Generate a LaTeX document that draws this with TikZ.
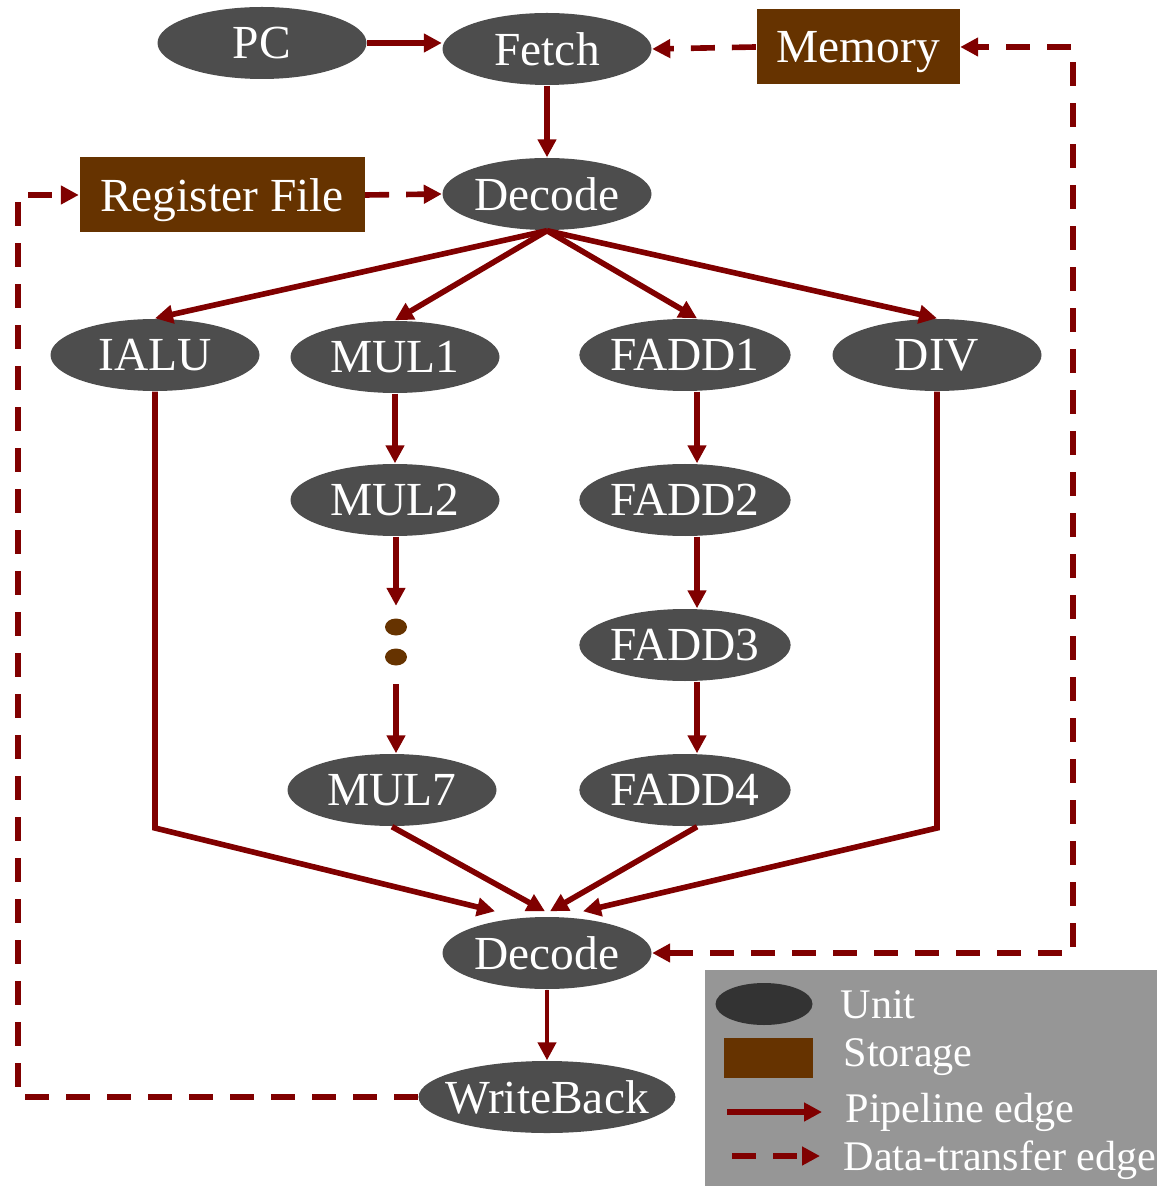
\documentclass[tikz,border=0pt]{standalone}
\usepackage{fontspec}
\setmainfont{Liberation Serif}
\usetikzlibrary{arrows.meta, shapes.geometric}
\definecolor{unitgray}{HTML}{4D4D4D}
\definecolor{keydark}{HTML}{333333}
\definecolor{storebrown}{HTML}{663300}
\definecolor{edgered}{HTML}{800000}
\definecolor{keygray}{HTML}{969696}

\begin{document}
\begin{tikzpicture}[x=0.1mm, y=-0.1mm, >={Triangle[length=1.8mm, width=1.8mm]},
    unit/.style={ellipse, fill=unitgray, text=white, inner sep=0pt,
        minimum width=20.9mm, minimum height=7.2mm, font=\fontsize{13.5}{16}\selectfont},
    storage/.style={rectangle, fill=storebrown, text=white, inner sep=0pt, text depth=0pt,
        minimum height=7.5mm, font=\fontsize{13.5}{16}\selectfont},
    pipe/.style={->, draw=edgered, line width=1.6pt},
    data/.style={->, draw=edgered, line width=1.6pt, dash pattern=on 2.4mm off 1.7mm},
    keytext/.style={anchor=west, text=white, inner sep=0pt, font=\fontsize{12}{14}\selectfont}]
    \useasboundingbox (0,0) rectangle (1157,1186);
    % units and storage
    \node[unit] (pc) at (262,43) {PC};
    \node[unit] (fetch) at (547,49) {Fetch};
    \node[storage, minimum width=20.3mm] (mem) at (858,47) {Memory};
    \node[storage, minimum width=28.5mm] (rf) at (222,195) {Register File};
    \node[unit] (dec1) at (547,194) {Decode};
    \node[unit] (ialu) at (155,355) {IALU};
    \node[unit] (mul1) at (395,357) {MUL1};
    \node[unit] (fadd1) at (685,355) {FADD1};
    \node[unit] (div) at (937,355) {DIV};
    \node[unit] (mul2) at (395,500) {MUL2};
    \node[unit] (fadd2) at (685,500) {FADD2};
    \node[ellipse, fill=storebrown, inner sep=0pt, minimum width=2.2mm, minimum height=1.7mm] (dotA) at (396,627) {};
    \node[ellipse, fill=storebrown, inner sep=0pt, minimum width=2.2mm, minimum height=1.7mm] (dotB) at (396,657) {};
    \node[unit] (fadd3) at (685,645) {FADD3};
    \node[unit] (mul7) at (392,790) {MUL7};
    \node[unit] (fadd4) at (685,790) {FADD4};
    \node[unit] (dec2) at (547,953) {Decode};
    \node[unit, minimum width=25.5mm, inner xsep=-1.1mm] (wb) at (547,1097) {WriteBack};
    \coordinate (lbus) at (18,0);
    \coordinate (rbus) at (1073,0);
    \coordinate (ialubend) at (155,828);
    \coordinate (divbend) at (937,828);

    % pipeline edges
    \draw[pipe] (pc.east |- 0,43) -- (fetch.west |- 0,43);
    \draw[pipe] (fetch.south) -- (dec1.north);
    \draw[pipe] (dec1.south) -- (ialu.north);
    \draw[pipe] (dec1.south) -- (mul1.north);
    \draw[pipe] (dec1.south) -- ([xshift=1.2mm]fadd1.north);
    \draw[pipe] (dec1.south) -- (div.north);
    \draw[pipe] (mul1.south) -- (mul2.north);
    \draw[pipe, shorten >=1.2mm] (dotA.north |- mul2.south) -- (dotA.north);
    \draw[pipe, shorten <=1.8mm] (dotB.south) -- (dotB.south |- mul7.north);
    \draw[pipe] ([xshift=1.2mm]fadd1.south) -- ([xshift=1.2mm]fadd2.north);
    \draw[pipe] ([xshift=1.2mm]fadd2.south) -- ([xshift=1.2mm]fadd3.north);
    \draw[pipe] ([xshift=1.2mm]fadd3.south) -- ([xshift=1.2mm]fadd4.north);
    \draw[pipe] (ialu.south) -- (ialubend) -- ([xshift=-5.2mm, yshift=0.5mm]dec2.north);
    \draw[pipe] (mul7.south) -- ([xshift=-0.2mm, yshift=0.5mm]dec2.north);
    \draw[pipe] ([xshift=1.2mm]fadd4.south) -- ([xshift=0.3mm, yshift=0.5mm]dec2.north);
    \draw[pipe] (div.south) -- (divbend) -- ([xshift=3.6mm, yshift=0.5mm]dec2.north);
    \draw[pipe, line width=1.2pt] (dec2.south) -- (wb.north);

    % data-transfer edges
    \draw[data] (mem.west) -- (fetch.east);
    \draw[data] (rf.east) -- (dec1.west);
    \draw[data, <->] (dec2.east) -- (dec2.east -| rbus) -- (mem.east -| rbus) -- (mem.east);
    \draw[data] (wb.west) -- (wb.west -| lbus) -- (rf.west -| lbus) -- (rf.west);

    % legend
    \fill[keygray] (705,970) rectangle (1157,1186);
    \node[ellipse, fill=keydark, inner sep=0pt, minimum width=9.7mm, minimum height=4.2mm] (keyunit) at (764,1004) {};
    \node[rectangle, fill=storebrown, inner sep=0pt, minimum width=8.9mm, minimum height=4mm] (keystore) at (768,1058) {};
    \coordinate (keypipeA) at (727,1112);
    \coordinate (keypipeB) at (822,1112);
    \coordinate (keydataA) at (732,1156);
    \coordinate (keydataB) at (820,1156);
    \draw[pipe] (keypipeA) -- (keypipeB);
    \draw[data] (keydataA) -- (keydataB);
    \node[keytext] (keyunittext) at (840,1005) {Unit};
    \node[keytext] (keystoretext) at (843,1057) {Storage};
    \node[keytext] (keypipetext) at (845,1112) {Pipeline edge};
    \node[keytext] (keydatatext) at (843,1160) {Data-transfer edge};
\end{tikzpicture}
\end{document}
